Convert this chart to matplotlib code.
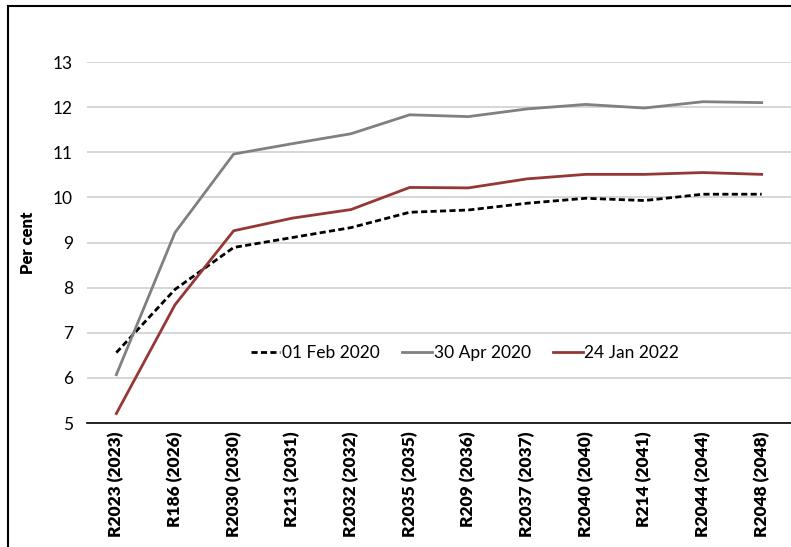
import matplotlib
matplotlib.use("Agg")
import matplotlib.pyplot as plt
from matplotlib.patches import Rectangle

categories = ["R2023 (2023)", "R186 (2026)", "R2030 (2030)", "R213 (2031)", "R2032 (2032)",
              "R2035 (2035)", "R209 (2036)", "R2037 (2037)", "R2040 (2040)", "R214 (2041)",
              "R2044 (2044)", "R2048 (2048)"]
feb2020 = [6.56, 7.96, 8.89, 9.11, 9.33, 9.67, 9.72, 9.87, 9.98, 9.93, 10.07, 10.07]
apr2020 = [6.07, 9.22, 10.96, 11.19, 11.41, 11.83, 11.79, 11.96, 12.06, 11.98, 12.12, 12.10]
jan2022 = [5.21, 7.62, 9.26, 9.54, 9.73, 10.22, 10.21, 10.41, 10.51, 10.51, 10.55, 10.51]
yticks = [5, 6, 7, 8, 9, 10, 11, 12, 13]

plt.rcParams['font.family'] = ['Lato', 'DejaVu Sans']

W, H = 791, 547
fig = plt.figure(figsize=(W / 100, H / 100), dpi=100)
ax = fig.add_axes([87 / W, 1 - 423 / H, (W - 87) / W, (423 - 62) / H])

x = list(range(len(categories)))
ax.plot(x, feb2020, color="black", lw=2.0, ls=(0, (2.2, 1.2)), label="01 Feb 2020", zorder=3)
ax.plot(x, apr2020, color="#808080", lw=2.0, label="30 Apr 2020", zorder=3)
ax.plot(x, jan2022, color="#953735", lw=2.0, label="24 Jan 2022", zorder=4)

ax.set_xlim(-0.5, len(categories) - 0.5)
ax.set_ylim(5, 13)
ax.set_yticks(yticks)
ax.set_yticklabels([str(v) for v in yticks], fontsize=12.5)
ax.set_xticks(x)
ax.set_xticklabels(categories, rotation=90, fontsize=12.5, fontweight="heavy")
ax.tick_params(axis="both", length=0)
ax.tick_params(axis="y", pad=10)
ax.tick_params(axis="x", pad=6)
ax.yaxis.grid(True, color="#d0d0d0", lw=1.2)
ax.set_axisbelow(True)
for s in ["top", "right", "left"]:
    ax.spines[s].set_visible(False)
ax.spines["bottom"].set_color("black")
ax.spines["bottom"].set_linewidth(1.2)
ax.set_ylabel("Per cent", fontsize=12, fontweight="heavy", labelpad=12)

ax.legend(loc="center", bbox_to_anchor=(0.537, 0.193), ncol=3, frameon=False,
          fontsize=12.5, handlelength=1.7, handletextpad=0.1, columnspacing=1.3)

fig.patches.append(Rectangle((8 / W, -0.1), 1.2, (1 - 6 / H) + 0.1, transform=fig.transFigure,
                             fill=False, edgecolor="black", lw=1.5))

fig.savefig("out.png", dpi=100)
